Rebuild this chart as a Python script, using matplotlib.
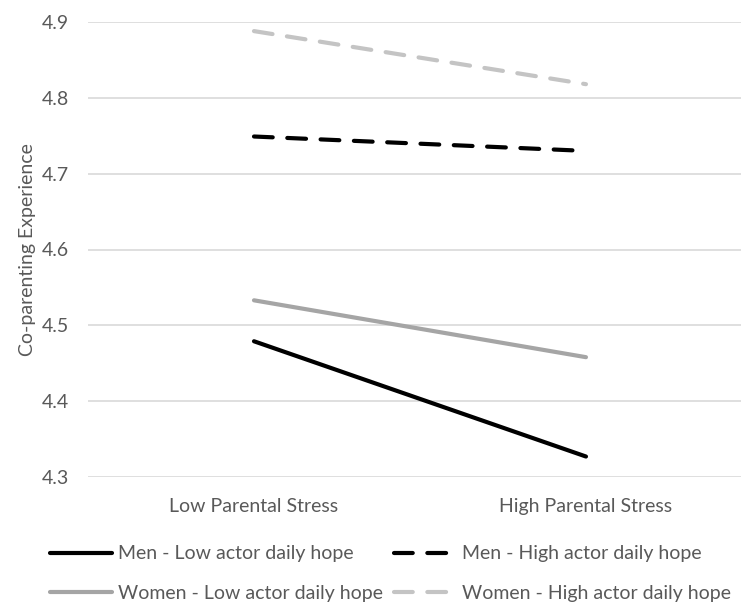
import matplotlib.pyplot as plt

plt.rcParams["font.family"] = ["Lato", "DejaVu Sans"]

categories = ["Low Parental Stress", "High Parental Stress"]
men_low = [4.479, 4.327]
women_low = [4.533, 4.458]
men_high = [4.749, 4.730]
women_high = [4.888, 4.818]

series_names = ["Men - Low actor daily hope", "Men - High actor daily hope",
                "Women - Low actor daily hope", "Women - High actor daily hope"]

fig = plt.figure(figsize=(7.41, 6.03), dpi=100)
ax = fig.add_axes([88 / 741, 1 - 477 / 603, 1 - 88 / 741, (477 - 22) / 603])

x = list(range(len(categories)))
lw = 3
ax.plot(x, men_low, color="black", lw=lw, solid_capstyle="round", label=series_names[0])
ax.plot(x, men_high, color="black", lw=lw, dashes=(4.5, 3.5), dash_capstyle="round",
        label=series_names[1])
ax.plot(x, women_low, color="#a5a5a5", lw=lw, solid_capstyle="round", label=series_names[2])
ax.plot(x, women_high, color="#c4c4c4", lw=lw, dashes=(4.5, 3.5), dash_capstyle="round",
        label=series_names[3])

ax.set_xlim(-0.5, 1.467)
ax.set_ylim(4.3, 4.9)
ax.set_yticks([4.3, 4.4, 4.5, 4.6, 4.7, 4.8, 4.9])
ax.set_yticklabels(["4.3", "4.4", "4.5", "4.6", "4.7", "4.8", "4.9"])
ax.set_xticks(x)
ax.set_xticklabels(categories)
ax.tick_params(length=0, labelsize=14, colors="#595959")
ax.tick_params(axis="x", pad=15)
ax.tick_params(axis="y", pad=14)
ax.grid(axis="y", color="#d9d9d9", lw=1.2)
ax.set_axisbelow(True)
for s in ax.spines.values():
    s.set_visible(False)
ax.set_ylabel("Co-parenting Experience", fontsize=14, color="#595959", labelpad=4)

handles, labels = ax.get_legend_handles_labels()
order = [0, 2, 1, 3]
leg = fig.legend([handles[i] for i in order], [labels[i] for i in order],
                 ncol=2, loc="upper left", bbox_to_anchor=(32 / 741, 1 - 528 / 603),
                 frameon=False, fontsize=14, handlelength=3.2, handletextpad=0.3,
                 columnspacing=0.6, labelspacing=1.15, labelcolor="#595959")

fig.savefig("out.png")
